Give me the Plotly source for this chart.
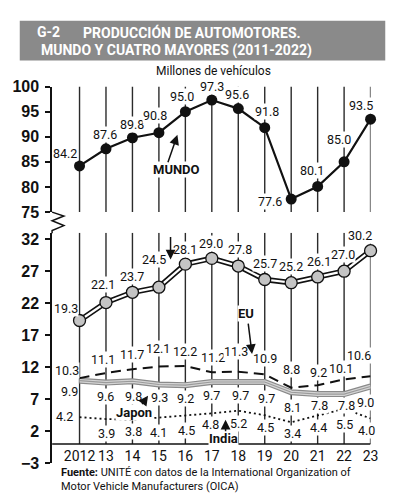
import plotly.graph_objects as go

# ---------------- data ----------------
years = list(range(2012, 2024))
year_labels = ["2012", "13", "14", "15", "16", "17", "18", "19", "20", "21", "22", "23"]
mundo = [84.2, 87.6, 89.8, 90.8, 95.0, 97.3, 95.6, 91.8, 77.6, 80.1, 85.0, 93.5]
china = [19.3, 22.1, 23.7, 24.5, 28.1, 29.0, 27.8, 25.7, 25.2, 26.1, 27.0, 30.2]
eu = [10.3, 11.1, 11.7, 12.1, 12.2, 11.2, 11.3, 10.9, 8.8, 9.2, 10.1, 10.6]
japon = [9.9, 9.6, 9.8, 9.3, 9.2, 9.7, 9.7, 9.7, 8.1, 7.8, 7.8, 9.0]
india = [4.2, 3.9, 3.8, 4.1, 4.5, 4.8, 5.2, 4.5, 3.4, 4.4, 5.5, 4.0]
top_ticks = [75, 80, 85, 90, 95, 100]
bottom_ticks = [-3, 2, 7, 12, 17, 22, 27, 32]

# label offsets (pixels: dx, dy up)
mundo_off = [(-15, 12), (-1, 14), (0, 13), (-4, 17), (-3, 15), (0, 14), (-1, 14), (2, 16),
             (-21, -2), (-6, 16), (-5, 22), (-10, 14)]
china_off = [(-14, 12), (-3, 18), (0, 16), (-5, 28), (0, 15), (-1, 15), (2, 17), (0, 16),
             (0, 16), (1, 15), (-1, 17), (-11, 15)]
eu_off = [(-13, 8), (-3, 13), (0, 15), (-1, 18), (0, 14), (1, 15), (-2, 20), (0, 16),
          (0, 18), (1, 13), (-3, 11), (-12, 21)]
japon_off = [(-10, -11), (0, -14), (1, -15), (1, -13), (0, -13), (0, -14), (2, -14), (2, -17),
             (1, -15), (2, -11), (2, -11), (-5, -16)]
india_off = [(-15, 1), (1, -14), (1, -12), (0, -15), (1, -15), (-1, -11), (0, -13), (1, -12),
             (1, -11), (1, -12), (0, -16), (-4, -12)]

W, H = 398, 500
FONT = "Roboto, Liberation Sans, sans-serif"
REG = "Liberation Sans, Arial, sans-serif"


def pxx(x):
    return x / W


def pyy(y):
    return 1 - y / H


x0 = 2012 - 28 / 27.0
x1 = 2023

fig = go.Figure()

# vertical grid lines
gx_top, gy_top, gx_bot, gy_bot = [], [], [], []
for yr in years:
    gx_top += [yr, yr, None]
    gy_top += [75, 100, None]
    gx_bot += [yr, yr, None]
    gy_bot += [0, 33, None]
fig.add_trace(go.Scatter(x=gx_top, y=gy_top, mode="lines", yaxis="y",
                         line=dict(color="#2b2b2b", width=1.4), hoverinfo="skip"))
fig.add_trace(go.Scatter(x=gx_bot, y=gy_bot, mode="lines", yaxis="y2",
                         line=dict(color="#2b2b2b", width=1.4), hoverinfo="skip"))
# horizontal base line at 0
fig.add_trace(go.Scatter(x=[x0, x1], y=[0, 0], mode="lines", yaxis="y2",
                         line=dict(color="#111", width=1.5), hoverinfo="skip", cliponaxis=False))

# India dotted
fig.add_trace(go.Scatter(x=years, y=india, mode="lines", yaxis="y2",
                         line=dict(color="#111", width=1.8, dash="2px,3px"), cliponaxis=False))
# Japan grey band
fig.add_trace(go.Scatter(x=years, y=japon, mode="lines", yaxis="y2",
                         line=dict(color="#8a8a8a", width=6), cliponaxis=False))
fig.add_trace(go.Scatter(x=years, y=japon, mode="lines", yaxis="y2",
                         line=dict(color="#d4d4d4", width=3.6), cliponaxis=False))
fig.add_trace(go.Scatter(x=years, y=japon, mode="lines", yaxis="y2",
                         line=dict(color="#9a9a9a", width=1.1), cliponaxis=False))
# EU dashed
fig.add_trace(go.Scatter(x=years, y=eu, mode="lines", yaxis="y2",
                         line=dict(color="#111", width=2, dash="10px,6px"), cliponaxis=False))
# China double line
fig.add_trace(go.Scatter(x=years, y=china, mode="lines", yaxis="y2",
                         line=dict(color="#111", width=5.5), cliponaxis=False))
fig.add_trace(go.Scatter(x=years, y=china, mode="lines+markers", yaxis="y2",
                         line=dict(color="white", width=2.2),
                         marker=dict(size=12, color="#c4c4c4", line=dict(color="#111", width=1.3)),
                         cliponaxis=False))
# MUNDO
fig.add_trace(go.Scatter(x=years, y=mundo, mode="lines+markers", yaxis="y",
                         line=dict(color="#111", width=2.2),
                         marker=dict(size=11, color="#111"), cliponaxis=False))

ann = []


def add_labels(vals, offs, yref):
    for yr, v, (dx, dy) in zip(years, vals, offs):
        ann.append(dict(x=yr, y=v, xref="x", yref=yref, text=f"{v:.1f}", showarrow=False,
                        xshift=dx, yshift=dy, xanchor="center", yanchor="middle",
                        bgcolor="white", borderpad=0,
                        font=dict(family=FONT, size=12.5, color="#111")))


add_labels(mundo, mundo_off, "y")
add_labels(china, china_off, "y2")
add_labels(eu, eu_off, "y2")
add_labels(japon, japon_off, "y2")
add_labels(india, india_off, "y2")

# series names with arrows
names = [
    ("MUNDO", 2015.67, 83.46, "y", True),
    ("China", 2015.19, 33.36, "y2", False),
    ("EU", 2018.30, 20.39, "y2", True),
    ("Japon", 2014.04, 5.0, "y2", True),
    ("India", 2017.44, 0.92, "y2", True),
]
for t, x, y, yr_, b in names:
    ann.append(dict(x=x, y=y, xref="x", yref=yr_, text=f"<b>{t}</b>" if b else t, showarrow=False,
                    xanchor="center", yanchor="middle", bgcolor="white", borderpad=0,
                    font=dict(family=FONT, size=13, color="#111")))
arrows = [
    (2015.70, 90.38, "y", -10, 29),
    (2015.44, 28.83, "y2", 0, -24),
    (2018.52, 14.05, "y2", -4, -32),
    (2014.59, 7.56, "y2", -7, 10),
    (2017.52, 3.79, "y2", 0, 13),
]
for x, y, yr_, ax, ay in arrows:
    ann.append(dict(x=x, y=y, xref="x", yref=yr_, text="", showarrow=True, ax=ax, ay=ay,
                    arrowhead=2, arrowsize=1.3, arrowwidth=1.5, arrowcolor="#111"))

# title
TFONT = dict(family=FONT, size=14, color="white", weight="bold")
ann.append(dict(x=pxx(28), y=pyy(17), xref="paper", yref="paper", text="G-2", showarrow=False,
                xanchor="left", yanchor="middle", font=TFONT))
ann.append(dict(x=pxx(75), y=pyy(17), xref="paper", yref="paper", text="PRODUCCIÓN DE AUTOMOTORES.",
                showarrow=False, xanchor="left", yanchor="middle", font=TFONT))
ann.append(dict(x=pxx(32), y=pyy(36), xref="paper", yref="paper",
                text="MUNDO Y CUATRO MAYORES (2011-2022)", showarrow=False,
                xanchor="left", yanchor="middle", font=TFONT))
ann.append(dict(x=pxx(210), y=pyy(57), xref="paper", yref="paper", text="Millones de vehículos",
                showarrow=False, xanchor="center", yanchor="middle",
                font=dict(family=FONT, size=12, color="#111")))
ann.append(dict(x=pxx(52), y=pyy(480), xref="paper", yref="paper",
                text="<b>Fuente:</b> UNITÉ con datos de la International Organization of<br>Motor Vehicle Manufacturers (OICA)",
                showarrow=False, xanchor="left", yanchor="middle", align="left",
                font=dict(family=FONT, size=11, color="#111")))

shapes = [
    dict(type="rect", xref="paper", yref="paper", x0=pxx(12), x1=pxx(385), y0=pyy(46), y1=pyy(5),
         fillcolor="#8a8a8a", line=dict(width=0), layer="below"),
    dict(type="path", xref="paper", yref="paper",
         path=("M {} {} L {} {} L {} {} L {} {} L {} {} L {} {}".format(
             pxx(45), pyy(203), pxx(57), pyy(207), pxx(45), pyy(212), pxx(57), pyy(217),
             pxx(45), pyy(222), pxx(45), pyy(225))),
         line=dict(color="#111", width=1.5)),
]

axis_font = dict(family=REG, size=16, color="#111", weight="bold")
fig.update_layout(
    width=W, height=H, margin=dict(l=0, r=0, t=0, b=0),
    paper_bgcolor="white", plot_bgcolor="white", showlegend=False,
    xaxis=dict(domain=[pxx(45), pxx(370)], range=[x0, x1], anchor="free", position=pyy(443),
               tickvals=years, ticktext=year_labels, showgrid=False, zeroline=False, showline=False,
               ticks="", tickangle=0, ticklabelstandoff=2,
               tickfont=dict(family=FONT, size=14, color="#111")),
    yaxis=dict(domain=[pyy(203), pyy(73)], range=[75, 100], anchor="x", tickvals=top_ticks,
               showgrid=False, zeroline=False, showline=True, linecolor="#111", linewidth=1.5,
               ticks="outside", ticklen=5, tickwidth=1.5, tickcolor="#111", tickfont=axis_font,
               ticklabelstandoff=3),
    yaxis2=dict(domain=[pyy(463), pyy(224.4)], range=[-3, 33], anchor="x", tickvals=bottom_ticks,
                showgrid=False, zeroline=False, showline=True, linecolor="#111", linewidth=1.5,
                ticks="outside", ticklen=5, tickwidth=1.5, tickcolor="#111", tickfont=axis_font,
                ticklabelstandoff=3),
    annotations=ann, shapes=shapes,
)

fig.write_html("out.html")
